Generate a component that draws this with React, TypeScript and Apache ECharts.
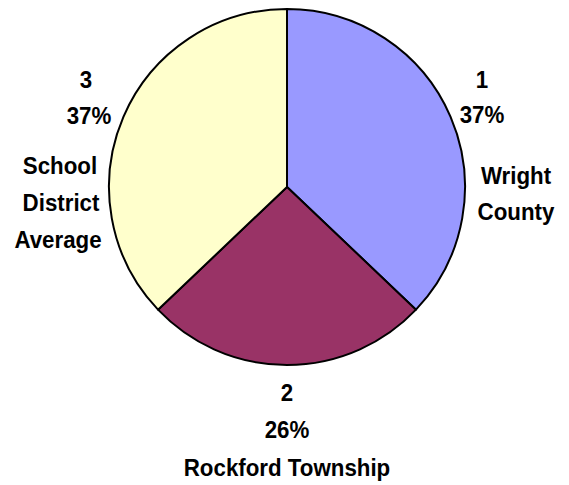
import React, { useEffect, useRef } from "react";
import * as echarts from "echarts";

const categories = ["Wright County", "Rockford Township", "School District Average"];
const slotLabels = ["1", "2", "3"];
const values = [37.1, 25.8, 37.1];
const colors = ["#9999FF", "#993366", "#FFFFCC"];

export default function App() {
  const ref = useRef<HTMLDivElement>(null);
  useEffect(() => {
    if (!ref.current) return;
    const chart = echarts.init(ref.current, undefined, { renderer: "svg" });
    const total = values.reduce((a, b) => a + b, 0);
    const pct = values.map((v) => Math.round((v / total) * 100) + "%");
    const font = { fontFamily: "Liberation Sans, Arial, sans-serif", fontWeight: "bold", fontSize: 24, fill: "#000" } as any;
    const txt = (text: string, x: number, y: number) => ({
      type: "text",
      x,
      y,
      scaleX: 0.93,
      style: { ...font, text, align: "center", verticalAlign: "middle" },
    });
    chart.setOption({
      animation: false,
      backgroundColor: "#fff",
      series: [
        {
          type: "pie",
          center: [287, 187],
          radius: 178,
          startAngle: 90,
          clockwise: true,
          label: { show: false },
          labelLine: { show: false },
          itemStyle: { borderColor: "#000", borderWidth: 2 },
          emphasis: { disabled: true },
          data: categories.map((c, i) => ({ name: c, value: values[i], itemStyle: { color: colors[i] } })),
        },
      ],
      graphic: [
        txt(slotLabels[0], 482, 80),
        txt(pct[0], 482, 115),
        txt("Wright", 516, 176),
        txt("County", 516, 212),
        txt(slotLabels[1], 287, 393),
        txt(pct[1], 287, 430),
        txt("Rockford Township", 287, 468),
        txt(slotLabels[2], 86, 80),
        txt(pct[2], 89, 116),
        txt("School", 60, 166),
        txt("District", 61, 203),
        txt("Average", 58, 240),
      ],
    });
    return () => chart.dispose();
  }, []);
  return <div ref={ref} style={{ position: "fixed", left: 0, top: 0, width: 569, height: 485 }} />;
}
